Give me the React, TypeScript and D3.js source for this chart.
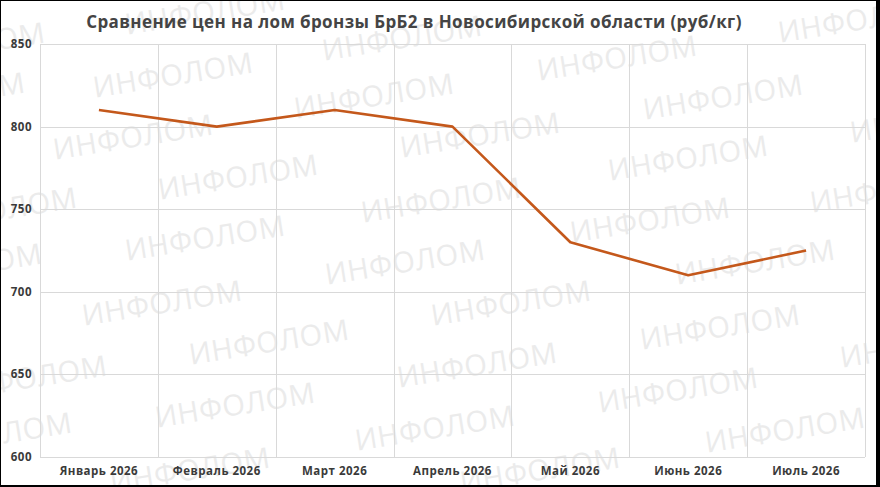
import { useMemo } from "react";
import * as d3 from "d3";

const MONTHS = [
  "Январь 2026",
  "Февраль 2026",
  "Март 2026",
  "Апрель 2026",
  "Май 2026",
  "Июнь 2026",
  "Июль 2026",
];
const PRICES = [810, 800, 810, 800, 730, 710, 725];
const Y_TICKS = [600, 650, 700, 750, 800, 850];
const TITLE = "Сравнение цен на лом бронзы БрБ2 в Новосибирской области (руб/кг)";
const WATERMARK = "ИНФОЛОМ";

// approximate centres of the repeated watermark text
const WATERMARK_SPOTS: [number, number][] = [
  [205, 12], [173, 75], [133, 137], [238, 177], [205, 238], [162, 303], [269, 342], [235, 405], [190, 470],
  [402, 38], [374, 96], [480, 135], [441, 200], [405, 262], [511, 303], [477, 365], [435, 428], [540, 470],
  [617, 58], [723, 97], [688, 158], [650, 220], [755, 262], [720, 327], [678, 390], [785, 430],
  [-35, 45], [-55, 95], [-3, 210], [-38, 266], [27, 378], [-8, 435],
  [858, 20], [930, 120], [890, 190], [920, 345],
];

const W = 880;
const H = 487;
const PLOT = { left: 40, right: 865, top: 44, bottom: 457 };
const LINE_COLOR = "#c4581b";
const GRID = "#d9d9d9";
const FONT = "'Open Sans', 'DejaVu Sans', sans-serif";

export default function App() {
  const x = useMemo(
    () => d3.scaleBand<string>().domain(MONTHS).range([PLOT.left, PLOT.right]).padding(0),
    []
  );
  const y = useMemo(
    () => d3.scaleLinear().domain([600, 850]).range([PLOT.bottom, PLOT.top]),
    []
  );

  const cx = (m: string) => (x(m) ?? 0) + x.bandwidth() / 2;

  const path = d3
    .line<number>()
    .x((_, i) => cx(MONTHS[i]))
    .y((d) => y(d))(PRICES) ?? "";

  const bandEdges = [...MONTHS.map((m) => x(m) ?? 0), PLOT.right];

  return (
    <>
      <style>{`body{margin:0}`}</style>
      <svg width={W} height={H} style={{ display: "block" }}>
        <defs>
          <clipPath id="frame">
            <rect x={1} y={1} width={875} height={484} />
          </clipPath>
        </defs>
        <rect x={0} y={0} width={W} height={H} fill="#000" />
        <rect x={1} y={1} width={875} height={484} fill="#fff" />

        {/* watermark */}
        <g
          clipPath="url(#frame)"
          fill="#ebebeb"
          fontFamily={FONT}
          fontSize={29}
          textAnchor="middle"
          letterSpacing={0.5}
        >
          {WATERMARK_SPOTS.map(([wx, wy], i) => (
            <text key={i} transform={`translate(${wx},${wy}) rotate(-9)`} dy="0.35em">
              {WATERMARK}
            </text>
          ))}
        </g>

        {/* grid */}
        <g stroke={GRID} strokeWidth={1}>
          {Y_TICKS.map((t) => (
            <line key={t} x1={PLOT.left} x2={PLOT.right} y1={Math.round(y(t)) + 0.5} y2={Math.round(y(t)) + 0.5} />
          ))}
          {bandEdges.map((e, i) => (
            <line key={i} x1={Math.round(e) + 0.5} x2={Math.round(e) + 0.5} y1={PLOT.top} y2={PLOT.bottom} />
          ))}
        </g>

        {/* y labels */}
        <g fontFamily={FONT} fontSize={11.5} fontWeight={700} fill="#3a3a3a" textAnchor="end" letterSpacing={0.5}>
          {Y_TICKS.map((t) => (
            <text key={t} x={32} y={y(t)} dy="0.35em">
              {t}
            </text>
          ))}
        </g>

        {/* x labels */}
        <g fontFamily={FONT} fontSize={11.5} fontWeight={700} fill="#3a3a3a" textAnchor="middle" letterSpacing={0.5}>
          {MONTHS.map((m) => (
            <text key={m} x={cx(m)} y={475}>
              {m}
            </text>
          ))}
        </g>

        <path d={path} fill="none" stroke={LINE_COLOR} strokeWidth={2.6} strokeLinejoin="round" strokeLinecap="butt" />

        <text
          x={414}
          y={28}
          textAnchor="middle"
          fontFamily={FONT}
          fontSize={17}
          fontWeight={700}
          fill="#444"
          letterSpacing={0.4}
        >
          {TITLE}
        </text>
      </svg>
    </>
  );
}
